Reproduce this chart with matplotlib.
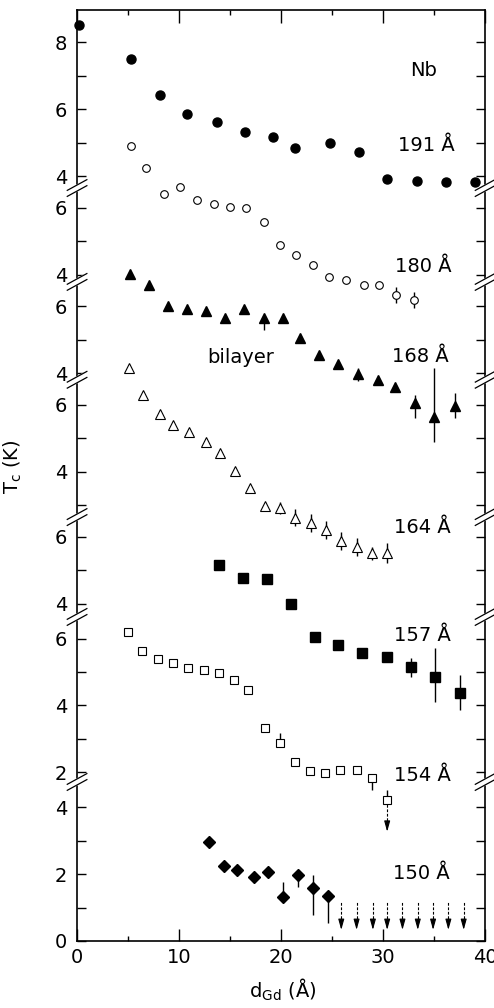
import numpy as np
import matplotlib.pyplot as plt
from matplotlib.ticker import MultipleLocator, NullLocator

plt.rcParams['font.family'] = 'DejaVu Sans'
plt.rcParams['mathtext.default'] = 'regular'
plt.rcParams['font.size'] = 14

# Tc (K) against Gd layer thickness (A) for several Nb thicknesses
x191 = [0.2, 5.3, 8.1, 10.8, 13.7, 16.5, 19.2, 21.4, 24.8, 27.6, 30.4, 33.3, 36.2, 39.0]
tc191 = [8.53, 7.50, 6.43, 5.87, 5.62, 5.33, 5.16, 4.83, 5.00, 4.72, 3.91, 3.85, 3.83, 3.83]

x180 = [5.3, 6.8, 8.5, 10.1, 11.8, 13.4, 15.0, 16.6, 18.3, 19.9, 21.5, 23.1, 24.7, 26.4, 28.1, 29.6, 31.3, 33.0]
tc180 = [7.85, 7.18, 6.42, 6.62, 6.24, 6.12, 6.03, 5.98, 5.56, 4.89, 4.59, 4.29, 3.94, 3.84, 3.69, 3.69, 3.39, 3.24]
err180 = [0, 0, 0, 0, 0, 0, 0, 0, 0, 0, 0, 0, 0, 0, 0, 0, 0.25, 0.25]

x168 = [5.2, 7.1, 8.9, 10.8, 12.6, 14.5, 16.4, 18.3, 20.2, 21.9, 23.7, 25.6, 27.5, 29.5, 31.2, 33.1, 35.0, 37.0]
tc168 = [6.96, 6.64, 6.02, 5.92, 5.87, 5.64, 5.92, 5.64, 5.64, 5.06, 4.54, 4.28, 3.96, 3.78, 3.58, 3.10, 2.70, 3.00]
err168_lo = [0, 0, 0, 0, 0, 0, 0, 0.35, 0, 0, 0, 0, 0.2, 0, 0, 0.45, 0.75, 0.35]
err168_hi = [0, 0, 0, 0, 0, 0, 0, 0, 0, 0, 0, 0, 0.2, 0, 0, 0.25, 1.45, 0.4]

x164 = [5.1, 6.5, 8.1, 9.4, 11.0, 12.6, 14.0, 15.5, 17.0, 18.4, 19.9, 21.4, 22.9, 24.4, 25.9, 27.4, 28.9, 30.4]
tc164 = [7.09, 6.30, 5.73, 5.40, 5.18, 4.90, 4.55, 4.02, 3.50, 2.98, 2.90, 2.62, 2.45, 2.26, 1.91, 1.73, 1.55, 1.57]
err164 = [0, 0, 0, 0, 0, 0, 0, 0, 0, 0, 0.18, 0.25, 0.27, 0.27, 0.27, 0.27, 0.2, 0.3]

x157 = [13.9, 16.3, 18.6, 21.0, 23.3, 25.6, 27.9, 30.4, 32.7, 35.1, 37.5]
tc157 = [5.16, 4.76, 4.73, 3.98, 3.01, 2.76, 2.51, 2.41, 2.11, 1.81, 1.31]
err157_lo = [0, 0, 0, 0, 0, 0, 0, 0.1, 0.3, 0.75, 0.5]
err157_hi = [0, 0, 0, 0, 0, 0, 0, 0.1, 0.26, 0.85, 0.55]

x154 = [5.0, 6.4, 7.9, 9.4, 10.9, 12.4, 13.9, 15.4, 16.8, 18.4, 19.9, 21.4, 22.8, 24.3, 25.8, 27.4, 28.9, 30.4]
tc154 = [6.21, 5.63, 5.39, 5.28, 5.13, 5.06, 4.98, 4.76, 4.46, 3.34, 2.87, 2.30, 2.05, 1.97, 2.07, 2.07, 1.82, 1.17]
err154_lo = [0, 0, 0, 0, 0, 0, 0, 0, 0, 0, 0, 0, 0, 0, 0, 0, 0.35, 0]
err154_hi = [0, 0, 0, 0, 0, 0, 0, 0, 0, 0, 0.3, 0, 0, 0, 0, 0, 0, 0.3]
lim154_x = [30.4]
lim154_to = 0.22

x150 = [12.9, 14.4, 15.7, 17.3, 18.7, 20.2, 21.7, 23.1, 24.6]
tc150 = [2.95, 2.25, 2.13, 1.91, 2.05, 1.31, 1.98, 1.58, 1.36]
err150_lo = [0, 0, 0, 0, 0, 0, 0.35, 0.8, 0.82]
err150_hi = [0, 0, 0, 0, 0, 0.47, 0, 0.4, 0]
lim150_x = [25.9, 27.4, 29.0, 30.4, 31.9, 33.4, 34.9, 36.4, 37.9]
lim150_from = 1.2
lim150_to = 0.33

# vertical shift of each panel of the broken axis
offsets = {'191': 18.9, '180': 15.95, '168': 13.0, '164': 10.05,
           '157': 6.1, '154': 3.05, '150': 0.0}
seg_ticks = [('150', [0, 1, 2, 3, 4]), ('154', [2, 3, 4, 5, 6]), ('157', [4, 5, 6]),
             ('164', [3, 4, 5, 6]), ('168', [4, 5, 6]), ('180', [4, 5, 6]),
             ('191', [4, 5, 6, 7, 8])]
breaks = [4.76, 9.7, 12.69, 16.8, 19.73, 22.54]

fig = plt.figure(figsize=(4.94, 10.08), dpi=100)
ax = fig.add_axes([0.156, 0.0665, 0.826, 0.9236])


def sh(vals, key):
    return np.array(vals) + offsets[key]


kw = dict(color='k', ecolor='k', elinewidth=1.0, capsize=0, linestyle='none', clip_on=False)
ax.errorbar(x191, sh(tc191, '191'), fmt='o', ms=6.5, mfc='k', **kw)
ax.errorbar(x180, sh(tc180, '180'), yerr=err180, fmt='o', ms=5.5, mfc='white', mew=0.8, **kw)
ax.errorbar(x168, sh(tc168, '168'), yerr=[err168_lo, err168_hi], fmt='^', ms=7, mfc='k', **kw)
ax.errorbar(x164, sh(tc164, '164'), yerr=err164, fmt='^', ms=6.5, mfc='white', mew=0.8, **kw)
ax.errorbar(x157, sh(tc157, '157'), yerr=[err157_lo, err157_hi], fmt='s', ms=6.5, mfc='k', **kw)
ax.errorbar(x154, sh(tc154, '154'), yerr=[err154_lo, err154_hi], fmt='s', ms=6, mfc='white', mew=0.8, **kw)
ax.errorbar(x150, sh(tc150, '150'), yerr=[err150_lo, err150_hi], fmt='D', ms=6.5, mfc='k', **kw)


def down_arrow(xs, y0, y1):
    ax.vlines(xs, y1 + 0.2, y0, colors='k', linewidth=0.8, linestyles=(0, (2.5, 1.5)))
    for xx in xs:
        ax.annotate('', xy=(xx, y1), xytext=(xx, y1 + 0.3),
                    arrowprops=dict(arrowstyle='-|>,head_length=0.9,head_width=0.25',
                                    mutation_scale=7, color='k', lw=0.8,
                                    shrinkA=0, shrinkB=0))


down_arrow(lim150_x, lim150_from + offsets['150'], lim150_to + offsets['150'])
down_arrow(lim154_x, tc154[-1] + offsets['154'] - 0.12, lim154_to + offsets['154'])

# labels
ax.text(34.0, 25.9, 'Nb', ha='center', va='baseline')
ax.text(37.0, 23.66, '191 Å', ha='right', va='baseline')
ax.text(36.7, 20.04, '180 Å', ha='right', va='baseline')
ax.text(16.0, 17.3, 'bilayer', ha='center', va='baseline')
ax.text(36.4, 17.34, '168 Å', ha='right', va='baseline')
ax.text(36.6, 12.22, '164 Å', ha='right', va='baseline')
ax.text(36.6, 8.99, '157 Å', ha='right', va='baseline')
ax.text(36.6, 4.8, '154 Å', ha='right', va='baseline')
ax.text(36.5, 1.85, '150 Å', ha='right', va='baseline')

ax.set_xlim(0, 40)
ax.set_ylim(0, 27.87)

yt, yl = [], []
for key, vals in seg_ticks:
    for v in vals:
        yt.append(v + offsets[key])
        yl.append(str(v) if v % 2 == 0 else '')
ax.set_yticks(yt)
ax.set_yticklabels(yl)
ax.yaxis.set_minor_locator(NullLocator())
ax.xaxis.set_major_locator(MultipleLocator(10))
ax.xaxis.set_minor_locator(MultipleLocator(5))
ax.tick_params(axis='both', which='both', direction='in', top=True, right=True, width=1.0)
ax.tick_params(axis='y', length=6.5, pad=7)
ax.tick_params(axis='x', which='major', length=9, pad=5)
ax.tick_params(axis='x', which='minor', length=3.5)
for s in ax.spines.values():
    s.set_linewidth(1.2)

# break marks on both sides
tr = ax.get_yaxis_transform()
for b in breaks:
    for xa in (0.0, 1.0):
        dx, dy, gap = 0.024, 0.16, 0.09
        ax.fill([xa - dx, xa + dx, xa + dx, xa - dx],
                [b - dy - gap, b + dy - gap, b + dy + gap, b - dy + gap],
                color='white', transform=tr, clip_on=False, zorder=5)
        for g in (-gap, gap):
            ax.plot([xa - dx, xa + dx], [b - dy + g, b + dy + g], color='k', lw=0.9,
                    transform=tr, clip_on=False, zorder=6)

ax.set_xlabel(r'd$_{Gd}$ (Å)')
ax.set_ylabel(r'T$_c$ (K)')
ax.xaxis.set_label_coords(0.505, -0.038)
ax.yaxis.set_label_coords(-0.13, 0.509)

fig.savefig('out.png', dpi=100)
